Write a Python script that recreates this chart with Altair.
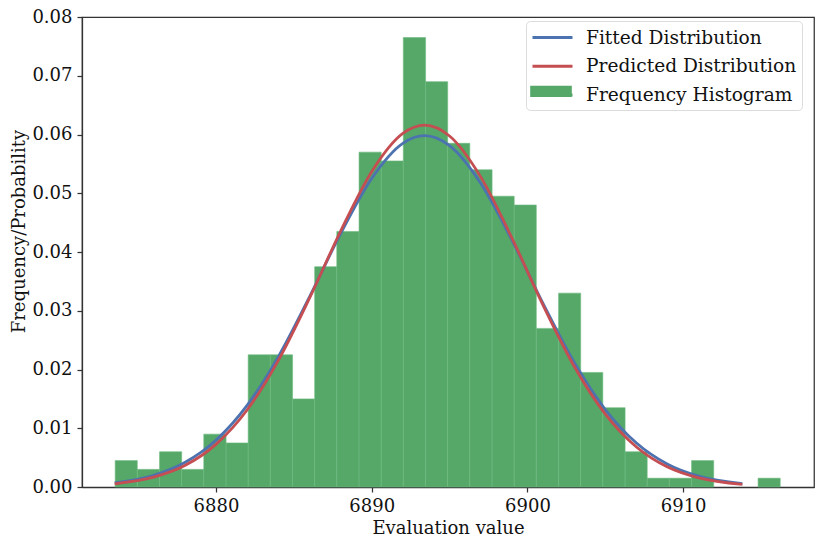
import altair as alt
import pandas as pd

# ---- data ----
bin_edges = [6873.53, 6874.95, 6876.38, 6877.80, 6879.22, 6880.65, 6882.07, 6883.49,
             6884.92, 6886.34, 6887.76, 6889.19, 6890.61, 6892.03, 6893.46, 6894.88,
             6896.30, 6897.73, 6899.15, 6900.57, 6902.00, 6903.42, 6904.84, 6906.27,
             6907.69, 6909.11, 6910.54, 6911.96, 6913.38, 6914.81, 6916.23]
bin_density = [0.0045, 0.0030, 0.0060, 0.0030, 0.0090, 0.0075, 0.0225, 0.0225,
               0.0150, 0.0375, 0.0435, 0.0570, 0.0555, 0.0765, 0.0690, 0.0585,
               0.0540, 0.0495, 0.0480, 0.0270, 0.0330, 0.0195, 0.0135, 0.0060,
               0.0015, 0.0015, 0.0045, 0.0, 0.0, 0.0015]

curve_x = [6873.5, 6876.0, 6878.0, 6880.0, 6882.0, 6884.0, 6886.0, 6888.0, 6890.0,
           6892.0, 6893.4, 6895.0, 6897.0, 6899.0, 6901.0, 6903.0, 6905.0, 6907.0,
           6909.0, 6911.0, 6913.8]
fitted_y = [0.00070, 0.00199, 0.00416, 0.00795, 0.01388, 0.02215, 0.03232, 0.04309,
            0.05252, 0.05850, 0.05980, 0.05810, 0.05170, 0.04204, 0.03125, 0.02123,
            0.01318, 0.00748, 0.00388, 0.00184, 0.00056]
predicted_y = [0.00055, 0.00167, 0.00365, 0.00726, 0.01310, 0.02151, 0.03209, 0.04353,
               0.05368, 0.06018, 0.06160, 0.05975, 0.05279, 0.04241, 0.03097, 0.02056,
               0.01241, 0.00681, 0.00339, 0.00154, 0.00043]

series_names = ["Fitted Distribution", "Predicted Distribution", "Frequency Histogram"]
series_colors = ["#4C72B0", "#C44E52", "#55A868"]

x_ticks = [6880, 6890, 6900, 6910]
y_ticks = [0.0, 0.01, 0.02, 0.03, 0.04, 0.05, 0.06, 0.07, 0.08]
x_domain = [6871.4, 6918.4]
y_domain = [0.0, 0.08]

# ---- tables ----
hist = pd.DataFrame({
    "x0": bin_edges[:-1],
    "x1": bin_edges[1:],
    "density": bin_density,
})
hist["base"] = 0.0
hist["label"] = series_names[2]
hist = hist[hist["density"] > 0]

curves = pd.DataFrame({
    "x": curve_x + curve_x,
    "y": fitted_y + predicted_y,
    "series": [series_names[0]] * len(curve_x) + [series_names[1]] * len(curve_x),
})

FONT = "DejaVu Serif"
FS = 18
LFS = 18.6
x_scale = alt.Scale(domain=x_domain, nice=False, zero=False)
y_scale = alt.Scale(domain=y_domain, nice=False)
x_axis = alt.Axis(values=x_ticks, format="d", title="Evaluation value", titlePadding=4)
y_axis = alt.Axis(values=y_ticks, format=".2f", title="Frequency/Probability",
                  titleAngle=270, titleAlign="center", titleBaseline="bottom",
                  titleX=-54, titleY=214)

LEG_X = 444
LEG_Y = 4
ROW_PAD = 6.7
ROW_STEP = 27.7
PATH_LINE = "M-1,0H3"
PATH_RECT = "M-1.08,-0.57H3.08V0.57H-1.08Z"

bars = alt.Chart(hist).mark_rect(stroke="#6dba80", strokeWidth=0.6).encode(
    x=alt.X("x0:Q", scale=x_scale, axis=x_axis),
    x2="x1:Q",
    y=alt.Y("density:Q", scale=y_scale, axis=y_axis),
    y2="base:Q",
    fill=alt.Fill(
        "label:N",
        scale=alt.Scale(domain=[series_names[2]], range=[series_colors[2]]),
        legend=alt.Legend(
            orient="none", legendX=LEG_X, legendY=LEG_Y + 2 * ROW_STEP, title=None,
            symbolType=PATH_RECT, symbolSize=400, symbolStrokeWidth=0,
            symbolOpacity=1, labelExpr="''", labelFontSize=LFS,
            padding=5, zindex=2,
        ),
    ),
)

lines = alt.Chart(curves).mark_line(strokeWidth=2.8, interpolate="monotone").encode(
    x=alt.X("x:Q", scale=x_scale, axis=x_axis),
    y=alt.Y("y:Q", scale=y_scale, axis=y_axis),
    color=alt.Color(
        "series:N",
        scale=alt.Scale(domain=series_names, range=series_colors),
        legend=alt.Legend(
            orient="none", legendX=LEG_X, legendY=LEG_Y, title=None,
            symbolType=PATH_LINE, symbolSize=400, symbolStrokeWidth=3,
            labelFont=FONT, labelFontSize=LFS, labelColor="#111111", labelLimit=400,
            labelOffset=32, padding=5, rowPadding=ROW_PAD,
            strokeColor="#dcdcdc", fillColor="white", cornerRadius=4, zindex=1,
        ),
    ),
)

chart = alt.layer(bars, lines).resolve_legend(color="independent", fill="independent").properties(
    width=732,
    height=470,
    padding={"left": 74, "top": 9, "right": 9, "bottom": 50},
    autosize=alt.AutoSizeParams(type="none"),
).configure_view(
    stroke="#333333", strokeWidth=1.25
).configure_axis(
    labelFont=FONT, titleFont=FONT, labelFontSize=FS, titleFontSize=FS,
    titleFontWeight="normal", labelColor="#111111", titleColor="#111111",
    domainColor="#333333", tickColor="#333333", domainWidth=1.25, tickWidth=1.25,
    tickSize=5, labelPadding=5, grid=False,
)

chart.save("out.html", embed_options={"renderer": "svg", "actions": False})
